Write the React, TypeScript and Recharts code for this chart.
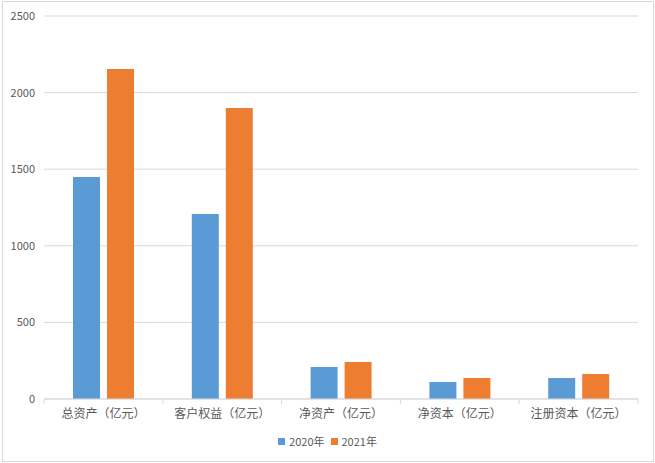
import React from "react"
import { BarChart, Bar, XAxis, YAxis, CartesianGrid, Legend } from "recharts"

const categories = ["总资产（亿元）", "客户权益（亿元）", "净资产（亿元）", "净资本（亿元）", "注册资本（亿元）"]
const values2020 = [1449, 1208, 209, 111, 137]
const values2021 = [2154, 1900, 241, 137, 163]
const yTicks = [0, 500, 1000, 1500, 2000, 2500]

const SERIES = [
  { key: "y2020", name: "2020年", color: "#5B9BD5" },
  { key: "y2021", name: "2021年", color: "#ED7D31" },
]

const FONT = "'Noto Sans CJK SC', 'Noto Sans', sans-serif"
const TEXT = "#595959"
const LINE = "#D9D9D9"

const data = categories.map((name, i) => ({
  name,
  y2020: values2020[i],
  y2021: values2021[i],
}))

function CategoryTick(props: any) {
  const { x, y, payload, index, visibleTicksCount } = props
  const half = payload.offset || 0
  const last = index === visibleTicksCount - 1
  return (
    <g>
      <line x1={x - half} x2={x - half} y1={y - 8} y2={y - 3} stroke={LINE} />
      {last && <line x1={x + half} x2={x + half} y1={y - 8} y2={y - 3} stroke={LINE} />}
      <text x={x} y={y + 8} textAnchor="middle" dominantBaseline="middle" fill={TEXT} fontSize={12} fontFamily={FONT}>
        {payload.value}
      </text>
    </g>
  )
}

function LegendContent() {
  return (
    <div style={{ display: "flex", justifyContent: "center", alignItems: "center", gap: 6, fontFamily: FONT, fontSize: 11, color: TEXT, lineHeight: "16px" }}>
      {SERIES.map((s) => (
        <div key={s.key} style={{ display: "flex", alignItems: "center", gap: 4 }}>
          <span style={{ width: 7, height: 7, background: s.color, display: "inline-block" }} />
          <span>{s.name}</span>
        </div>
      ))}
    </div>
  )
}

export default function App() {
  return (
    <div style={{ position: "absolute", left: 0, top: 0, width: 655, height: 463, background: "#fff" }}>
      <div style={{ position: "absolute", left: 2, top: 1, width: 650, height: 459, border: `1px solid ${LINE}` }} />
      <BarChart
        width={655}
        height={463}
        data={data}
        margin={{ top: 16, right: 17, left: 0, bottom: 0 }}
        barSize={27}
        barGap={7}
      >
        <CartesianGrid vertical={false} stroke={LINE} />
        <XAxis
          dataKey="name"
          height={34}
          axisLine={{ stroke: LINE }}
          tickLine={false}
          tick={<CategoryTick />}
          interval={0}
        />
        <YAxis
          width={44}
          domain={[0, 2500]}
          ticks={yTicks}
          axisLine={false}
          tickLine={false}
          tickMargin={3}
          tick={{ fill: TEXT, fontSize: 11, fontFamily: FONT }}
        />
        <Legend
          verticalAlign="bottom"
          height={30}
          content={<LegendContent />}
          wrapperStyle={{ left: 0, width: 655 }}
        />
        {SERIES.map((s) => (
          <Bar key={s.key} dataKey={s.key} name={s.name} fill={s.color} isAnimationActive={false} />
        ))}
      </BarChart>
    </div>
  )
}
